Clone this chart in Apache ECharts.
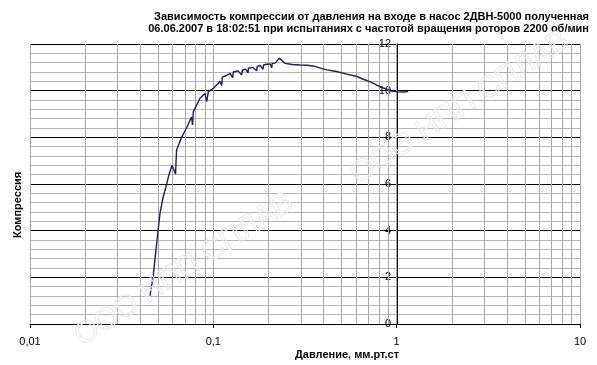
<!DOCTYPE html>
<html>
<head>
<meta charset="utf-8">
<script src="https://cdn.jsdelivr.net/npm/echarts@6/dist/echarts.min.js"></script>
<style>
    html, body {margin: 0; padding: 0; background: #fff;}
    #chart {width: 597px; height: 365px;}
</style>
</head>
<body>
<div id="chart"></div>
<script>
// давление, мм.рт.ст
var pressure = [0.0451, 0.0469, 0.0490, 0.0512, 0.0531, 0.0552, 0.0573, 0.0595, 0.0622, 0.0630,
    0.0671, 0.0714, 0.0760, 0.0770, 0.0778, 0.0846, 0.0900, 0.0920, 0.0939, 0.1000,
    0.1060, 0.1088, 0.1110, 0.1120, 0.1180, 0.1233, 0.1276, 0.1285, 0.1360, 0.1428,
    0.1440, 0.1500, 0.1545, 0.1555, 0.1640, 0.1724, 0.1735, 0.1800, 0.1866, 0.1878,
    0.1955, 0.2040, 0.2082, 0.2095, 0.2171, 0.2290, 0.2460, 0.2700, 0.2970, 0.3250,
    0.3510, 0.3800, 0.4153, 0.4700, 0.5340, 0.6000, 0.6577, 0.7200, 0.7781, 0.8300,
    0.8823, 0.9400, 1.0000, 1.0800, 1.1570];
// компрессия
var compression = [1.2, 2.0, 3.4, 4.76, 5.4, 5.9, 6.4, 6.8, 6.43, 7.45,
    8.0, 8.4, 8.87, 8.53, 9.1, 9.67, 9.88, 9.53, 9.96, 10.1,
    10.3, 10.4, 10.22, 10.58, 10.65, 10.74, 10.56, 10.8, 10.85, 10.68,
    10.88, 10.92, 10.76, 10.96, 11.0, 10.85, 11.04, 11.08, 10.92, 11.1,
    11.13, 11.15, 10.98, 11.17, 11.18, 11.39, 11.17, 11.12, 11.10, 11.09,
    11.06, 10.98, 10.89, 10.82, 10.71, 10.62, 10.49, 10.38, 10.24, 10.14,
    10.06, 9.98, 9.96, 9.94, 9.96];

// промежуточные вертикальные линии сетки (2..9 в каждой декаде)
var minorX = [0.02, 0.03, 0.04, 0.05, 0.06, 0.07, 0.08, 0.09,
    0.2, 0.3, 0.4, 0.5, 0.6, 0.7, 0.8, 0.9,
    2, 3, 4, 5, 6, 7, 8, 9];

var titleText = 'Зависимость компрессии от давления на входе в насос 2ДВН-5000 полученная\n' +
    '06.06.2007 в 18:02:51 при испытаниях с частотой вращения роторов 2200 об/мин';
var watermark = 'ООО НПП СПЛАВ';

var seriesData = pressure.map(function (p, i) {
    return [p, compression[i]];
});

// водяной знак
function wmText(x, y) {
    return {
        type: 'text', x: x, y: y, rotation: 0.58, z: 20, silent: true,
        style: {
            text: watermark, fill: 'rgba(255,255,255,0.2)', stroke: '#e8e8e8', lineWidth: 1,
            verticalAlign: 'bottom', font: '30px Liberation Sans, Arial, sans-serif'
        }
    };
}

var myChart = echarts.init(document.getElementById('chart'));
myChart.setOption({
    animation: false,
    textStyle: {fontFamily: 'Liberation Sans, Arial, sans-serif'},
    grid: {left: 30, right: 17, top: 44, bottom: 41, containLabel: false},
    graphic: [
        {
            type: 'text', right: 8, top: 11, z: 10,
            style: {
                text: titleText, textAlign: 'right', fill: '#000',
                font: 'bold 11px Liberation Sans, Arial, sans-serif', lineHeight: 12
            }
        },
        {
            type: 'text', left: 295, top: 349, z: 10,
            style: {text: 'Давление, мм.рт.ст', fill: '#000', font: 'bold 11px Liberation Sans, Arial, sans-serif'}
        },
        {
            type: 'text', x: 12, y: 238, rotation: Math.PI / 2, z: 10,
            style: {text: 'Компрессия', fill: '#000', font: 'bold 11px Liberation Sans, Arial, sans-serif'}
        },
        wmText(86, 352),
        wmText(362, 190)
    ],
    xAxis: {
        type: 'log',
        logBase: 10,
        min: 0.01,
        max: 10,
        axisLine: {show: true, lineStyle: {color: '#000', width: 1}},
        axisTick: {show: true, length: 4, lineStyle: {color: '#000'}},
        axisLabel: {
            color: '#000', fontSize: 11, margin: 12,
            formatter: function (v) {
                return String(+v.toPrecision(3)).replace('.', ',');
            }
        },
        splitLine: {show: true, lineStyle: {color: '#a8a8a8', width: 1}},
        minorTick: {show: false},
        minorSplitLine: {show: false}
    },
    yAxis: {
        type: 'value',
        min: 0,
        max: 12,
        interval: 2,
        offset: -367,
        axisLine: {show: true, lineStyle: {color: '#000', width: 1}},
        axisTick: {show: false},
        axisLabel: {color: '#000', fontSize: 11, margin: 6},
        splitLine: {show: true, lineStyle: {color: '#000', width: 1.2}},
        minorTick: {show: false, splitNumber: 5},
        minorSplitLine: {show: true, lineStyle: {color: '#b4b4b4', width: 1}}
    },
    series: [
        {
            type: 'line',
            data: seriesData,
            showSymbol: false,
            lineStyle: {color: '#1e1e5c', width: 1.4},
            z: 5,
            markLine: {
                silent: true,
                symbol: 'none',
                label: {show: false},
                lineStyle: {color: '#a8a8a8', width: 1, type: 'solid'},
                data: minorX.map(function (v) {
                    return {xAxis: v};
                }),
                z: 1
            }
        }
    ]
});
</script>
</body>
</html>
